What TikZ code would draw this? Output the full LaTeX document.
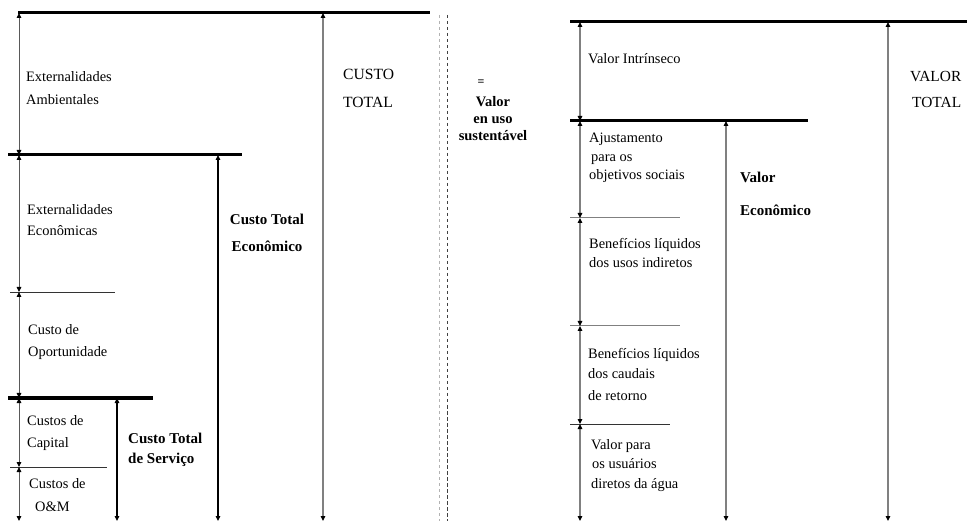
\documentclass[tikz,border=0pt]{standalone}
\usepackage{fontspec}
\setmainfont{Liberation Serif}
\usetikzlibrary{arrows.meta}
\begin{document}
\begin{tikzpicture}[x=1pt,y=-1pt,
  heavy/.style={line width=3pt,black},
  lightrule/.style={line width=0.9pt,black!80},
  grayrule/.style={line width=1pt,black!50},
  dim/.style={line width=0.9pt,black!65,{Triangle[length=5pt,width=4.5pt,color=black]}-{Triangle[length=5pt,width=4.5pt,color=black]}},
  graydim/.style={line width=1.2pt,black!50,{Triangle[length=5pt,width=4.5pt,color=black]}-{Triangle[length=5pt,width=4.5pt,color=black]}},
  lbl/.style={anchor=base west,inner sep=0pt,font=\fontsize{14.4}{22}\selectfont,align=left},
  rlbl/.style={anchor=base west,inner sep=0pt,font=\fontsize{14.4}{19.5}\selectfont,align=left},
  blbl/.style={anchor=base west,inner sep=0pt,font=\bfseries\fontsize{15}{21}\selectfont,align=left},
  bigl/.style={anchor=base west,inner sep=0pt,font=\fontsize{15.6}{27}\selectfont,align=left}
]
\useasboundingbox (0,0) rectangle (967,521);
\fill[white] (0,0) rectangle (967,521);

% ---------- left: level coordinates ----------
\coordinate (L0a) at (18,13);   \coordinate (L0b) at (430,13);
\coordinate (L1a) at (8,155);   \coordinate (L1b) at (242,155);
\coordinate (L2a) at (10,292);  \coordinate (L2b) at (115,292);
\coordinate (L3a) at (8,398);   \coordinate (L3b) at (153,398);
\coordinate (L4a) at (10,467);  \coordinate (L4b) at (107,467);

\coordinate (v0) at (19,13);  \coordinate (v1) at (19,155); \coordinate (v2) at (19,292);
\coordinate (v3) at (19,398); \coordinate (v4) at (19,467); \coordinate (v5) at (19,521);

\coordinate (s0) at (117,398); \coordinate (s1) at (117,521);
\coordinate (e0) at (218,155); \coordinate (e1) at (218,521);
\coordinate (t0) at (323,13);  \coordinate (t1) at (323,521);

\draw[heavy] (L0a) -- (L0b);
\draw[heavy] (L1a) -- (L1b);
\draw[lightrule] (L2a) -- (L2b);
\draw[heavy] (L3a) -- (L3b);
\draw[lightrule] (L4a) -- (L4b);

\draw[dim] (v0) -- (v1);
\draw[dim] (v1) -- (v2);
\draw[dim] (v2) -- (v3);
\draw[dim] (v3) -- (v4);
\draw[dim] (v4) -- (v5);
\draw[dim,line width=1.1pt,black] (s0) -- (s1);
\draw[dim,line width=1.1pt,black] (e0) -- (e1);
\draw[graydim] (t0) -- (t1);

% (multi-line nodes: base anchor = baseline of last line)
\node[lbl,font=\fontsize{14.4}{23}\selectfont] (extamb) at (26,105) {Externalidades\\Ambientales};
\node[lbl,font=\fontsize{14.4}{21}\selectfont] (exteco) at (27,236) {Externalidades\\Econômicas};
\node[lbl] (oport) at (28,357) {Custo de\\Oportunidade};
\node[lbl] (capital) at (27,447) {Custos de\\Capital};
\node[lbl,font=\fontsize{14.4}{23}\selectfont] (om) at (29,511) {Custos de\\\hspace*{6pt}O\&M};
\node[blbl,font=\bfseries\fontsize{15}{20}\selectfont] (cts) at (128,463) {Custo Total\\ de Serviço};
\node[blbl,align=center,anchor=base,font=\bfseries\fontsize{15}{27}\selectfont] (cte) at (267,252) {Custo Total\\Econômico};
\node[bigl,font=\fontsize{15.6}{28}\selectfont] (ct) at (343,108) {CUSTO\\TOTAL};

% ---------- separator ----------
\coordinate (d0) at (439,15); \coordinate (d1) at (439,521);
\coordinate (d2) at (447,15); \coordinate (d3) at (447,521);
\draw[black!30,line width=0.9pt,dash pattern=on 3pt off 3pt] (d0) -- (d1);
\draw[black!75,line width=0.9pt,dash pattern=on 3.5pt off 2.5pt] (d2) -- (d3);

\node[anchor=base,inner sep=0pt,font=\bfseries\fontsize{12}{12}\selectfont] (eq) at (481,86) {=};
\node[anchor=base,inner sep=0pt,align=center,font=\bfseries\fontsize{14.5}{17}\selectfont] (vus) at (493,141) {Valor\\en uso\\sustentável};

% ---------- right ----------
\coordinate (R0a) at (570,22);  \coordinate (R0b) at (967,22);
\coordinate (R1a) at (570,121); \coordinate (R1b) at (808,121);
\coordinate (R2a) at (570,218); \coordinate (R2b) at (680,218);
\coordinate (R3a) at (570,326); \coordinate (R3b) at (680,326);
\coordinate (R4a) at (570,424); \coordinate (R4b) at (670,424);

\coordinate (w0) at (580,22);  \coordinate (w1) at (580,121); \coordinate (w2) at (580,218);
\coordinate (w3) at (580,326); \coordinate (w4) at (580,424); \coordinate (w5) at (580,521);
\coordinate (ve0) at (726,121); \coordinate (ve1) at (726,521);
\coordinate (vt0) at (888,22);  \coordinate (vt1) at (888,521);

\draw[heavy] (R0a) -- (R0b);
\draw[heavy] (R1a) -- (R1b);
\draw[grayrule] (R2a) -- (R2b);
\draw[grayrule] (R3a) -- (R3b);
\draw[lightrule] (R4a) -- (R4b);

\draw[graydim] (w0) -- (w1);
\draw[graydim] (w1) -- (w2);
\draw[graydim] (w2) -- (w3);
\draw[graydim] (w3) -- (w4);
\draw[graydim] (w4) -- (w5);
\draw[graydim] (ve0) -- (ve1);
\draw[graydim] (vt0) -- (vt1);

\node[rlbl] (vint) at (588,64) {Valor Intrínseco};
\node[bigl,font=\fontsize{15.4}{26}\selectfont] (vt) at (910,108) {VALOR\\\hspace*{2pt}TOTAL};
\node[rlbl,font=\fontsize{14.4}{18.5}\selectfont] (ajust) at (589,180) {Ajustamento\\\hspace*{2pt}para os\\objetivos sociais};
\node[blbl,font=\bfseries\fontsize{15}{33}\selectfont] (vecon) at (740,216) {Valor\\Econômico};
\node[rlbl] (bind) at (589,268) {Benefícios líquidos\\dos usos indiretos};
\node[rlbl,font=\fontsize{14.4}{21}\selectfont] (bret) at (588,400) {Benefícios líquidos\\dos caudais\\de retorno};
\node[rlbl,font=\fontsize{14.4}{19.5}\selectfont] (vusu) at (591,488) {Valor para\\\hspace*{1pt}os usuários\\diretos da água};
\end{tikzpicture}
\end{document}
